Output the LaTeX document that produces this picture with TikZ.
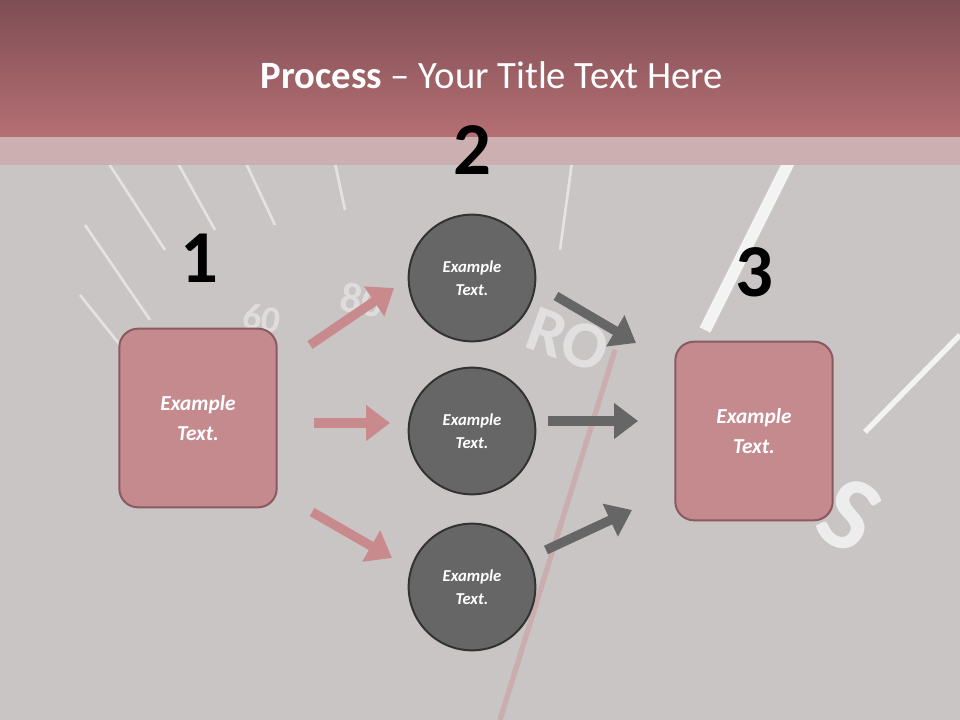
\documentclass[tikz,border=0pt]{standalone}
\usepackage{fontspec}
\setmainfont{Carlito}
\usetikzlibrary{arrows.meta}
\definecolor{bg}{HTML}{C9C5C5}
\definecolor{bandtop}{HTML}{7E4E54}
\definecolor{bandbot}{HTML}{B56F74}
\definecolor{lightband}{HTML}{CBAFB1}
\definecolor{pinkbox}{HTML}{C48A8E}
\definecolor{pinkedge}{HTML}{8A5A60}
\definecolor{pinkarrow}{HTML}{C98A8E}
\definecolor{circ}{HTML}{666666}
\tikzset{
  box/.style={draw=pinkedge, line width=1.5pt, fill=pinkbox, rounded corners=14pt, minimum width=118pt, minimum height=134pt, align=center, text=white, font=\bfseries\itshape\fontsize{16}{22}\selectfont},
  circnode/.style={circle, draw=black!80, line width=1.5pt, fill=circ, minimum size=95pt, align=center, text=white, font=\bfseries\itshape\fontsize{12.5}{17.5}\selectfont},
  num/.style={font=\bfseries\fontsize{56}{60}\selectfont, text=black},
  parrow/.style={pinkarrow, line width=7pt, -{Triangle[length=18pt,width=26pt]}},
  garrow/.style={circ, line width=7pt, -{Triangle[length=18pt,width=26pt]}},
  tick/.style={white, opacity=0.5, line width=2pt}
}
\begin{document}
\begin{tikzpicture}[x=0.75pt,y=-0.75pt]
\useasboundingbox (0,0) rectangle (960,720);
\fill[bg] (0,0) rectangle (960,720);
% background decoration
\draw[tick] (100,150) -- (165,250);
\draw[tick] (85,225) -- (150,320);
\draw[tick] (80,295) -- (120,345);
\draw[tick] (165,140) -- (215,230);
\draw[tick] (235,140) -- (275,225);
\draw[tick] (330,140) -- (345,210);
\draw[tick] (575,140) -- (560,250);
\draw[white, opacity=0.8, line width=9pt] (800,140) -- (705,330);
\draw[white, opacity=0.8, line width=4pt] (960,335) -- (865,432);
\draw[pinkarrow, opacity=0.4, line width=4pt] (615,350) -- (500,720);
\node[text=white, opacity=0.45, font=\bfseries\fontsize{50}{50}\selectfont, rotate=-20] at (568,340) {RO};
\node[text=white, opacity=0.7, font=\bfseries\fontsize{80}{80}\selectfont, rotate=-30] at (850,515) {S};
\node[text=white, opacity=0.4, font=\bfseries\fontsize{32}{32}\selectfont, rotate=-10] at (362,300) {80};
\node[text=white, opacity=0.4, font=\bfseries\fontsize{28}{28}\selectfont, rotate=-10] at (262,318) {60};
% title band
\shade[top color=bandtop, bottom color=bandbot] (0,0) rectangle (960,137);
\fill[lightband] (0,137) rectangle (960,165);
\node[text=white, font=\fontsize{29}{34}\selectfont] (title) at (492,75) {\textbf{Process} -- Your Title Text Here};
% numbers
\node[num] (n1) at (199,258) {1};
\node[num] (n2) at (472,150) {2};
\node[num] (n3) at (754,272) {3};
% boxes
\node[box] (b1) at (198,418) {Example\\Text.};
\node[box] (b3) at (754,431) {Example\\Text.};
% circles
\node[circnode] (c1) at (472,278) {Example\\Text.};
\node[circnode] (c2) at (472,431) {Example\\Text.};
\node[circnode] (c3) at (472,587) {Example\\Text.};
% arrows
\coordinate (p1s) at (310,345); \coordinate (p1e) at (394,288);
\coordinate (p2s) at (314,423); \coordinate (p2e) at (390,423);
\coordinate (p3s) at (312,512); \coordinate (p3e) at (392,558);
\draw[parrow] (p1s) -- (p1e);
\draw[parrow] (p2s) -- (p2e);
\draw[parrow] (p3s) -- (p3e);
\coordinate (g1s) at (556,296); \coordinate (g1e) at (636,343);
\coordinate (g2s) at (548,421); \coordinate (g2e) at (638,421);
\coordinate (g3s) at (546,550); \coordinate (g3e) at (632,510);
\draw[garrow] (g1s) -- (g1e);
\draw[garrow] (g2s) -- (g2e);
\draw[garrow] (g3s) -- (g3e);
\end{tikzpicture}
\end{document}
